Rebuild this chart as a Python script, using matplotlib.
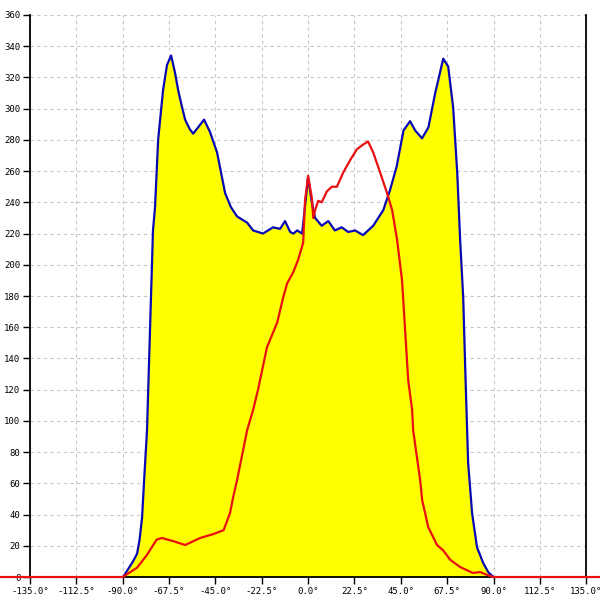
#!/usr/bin/env python3
"""Angular distribution: filled blue envelope and red overlay curve."""
import matplotlib
matplotlib.use("Agg")
import matplotlib.pyplot as plt

BLUE, RED, YELLOW, GRID = "#0a0ab4", "#e81010", "#ffff00", "#c6c6c6"

# blue envelope (filled yellow underneath)
blue_x = [-90, -89.5, -87.4, -85, -83, -81.8, -80.6, -79.6, -78.2, -75.3, -74.3, -72.8,
          -70.4, -68.5, -66.5, -64.6, -63.1, -61.2, -59.7, -57.5, -55.8, -53.4, -50.5,
          -47.6, -44.2, -40.3, -37.5, -34.5, -29.6, -26.7, -21.9, -17, -13.6, -11.2,
          -8.7, -7.1, -5.3, -2.9, 0, 1.8, 3.4, 6.6, 9.8, 13, 16.3, 19.5, 22.8, 26.7,
          31.6, 36.5, 39.8, 43, 46.3, 49.5, 52, 55.3, 58.4, 61.7, 65.6, 68, 70.4, 72.4,
          73.8, 75.3, 76.2, 77.2, 77.7, 79.6, 82, 85, 87.5, 90]
blue_y = [0, 0.6, 5, 10, 15, 24, 38, 62, 94, 222, 237, 280,
          312, 328, 334, 323, 312, 301, 293, 287, 284, 288, 293,
          285, 272, 246, 237, 231, 227, 222, 220, 224, 223, 228,
          221, 220, 222, 220, 256, 240, 230, 225, 228, 222, 224, 221, 222, 219,
          225, 235, 248, 263, 286, 292, 286, 281, 288, 310, 332, 327, 301, 259,
          216, 179, 137, 94, 73, 41, 19, 9, 3, 0]

# red curve (zero outside +-90, drawn past the axes)
red_x = [-150, -90, -83, -78.3, -73.5, -71, -65.5, -59.7, -52.4, -46, -41, -37.9, -36.4,
         -34.5, -29.6, -26.7, -24.3, -20, -15, -12.1, -10.2, -7.3, -4.9, -2.4, -1.5, 0,
         1.8, 2.5, 3.4, 4.9, 6.6, 9.1, 11.5, 14, 17, 20.4, 23.7, 26.7, 29.1, 31.6, 35,
         38.3, 40.8, 43.2, 45.6, 47.1, 48.6, 50.5, 51, 54.4, 55.4, 56.8, 58.3, 62.6,
         65.6, 69, 73.8, 80, 83.5, 86.9, 90, 150]
red_y = [0, 0, 6, 14, 24, 25, 23, 20.5, 25, 27.5, 30, 41, 51,
         62, 94, 107, 120, 147, 163, 179, 188, 195, 203, 214, 241, 257,
         243, 230, 235, 241, 240, 247, 250, 250, 259, 267, 274, 277, 279, 272, 259,
         246, 235, 216, 190, 158, 126, 107, 94, 62, 49, 41, 32, 20.5,
         17, 11, 6.4, 2.6, 3.2, 1.3, 0, 0]

xticks = [-135 + 22.5 * i for i in range(13)]
yticks = list(range(0, 361, 20))

fig = plt.figure(figsize=(6, 6), dpi=100)
ax = fig.add_axes([0.05, 0.0383, 0.927, 0.9367])
ax.set_xlim(-135, 135)
ax.set_ylim(0, 360)

ax.fill_between(blue_x, blue_y, 0, color=YELLOW, lw=0, zorder=2)
ax.plot(blue_x, blue_y, color=BLUE, lw=1.6, zorder=3)
ax.plot(red_x, red_y, color=RED, lw=1.6, zorder=4, clip_on=False)

ax.set_xticks(xticks)
ax.set_xticklabels([f"{t:.1f}°" for t in xticks])
ax.set_yticks(yticks)
ax.grid(True, color=GRID, ls=(0, (3, 3)), lw=0.8, zorder=1)
ax.set_axisbelow(True)

for s in ("left", "right", "bottom"):
    ax.spines[s].set_linewidth(1.3)
ax.spines["top"].set_visible(False)
ax.tick_params(direction="out", length=5, width=1, labelsize=6.5, pad=2)
for lab in ax.get_xticklabels() + ax.get_yticklabels():
    lab.set_family("DejaVu Sans Mono")

fig.savefig("out.png")
